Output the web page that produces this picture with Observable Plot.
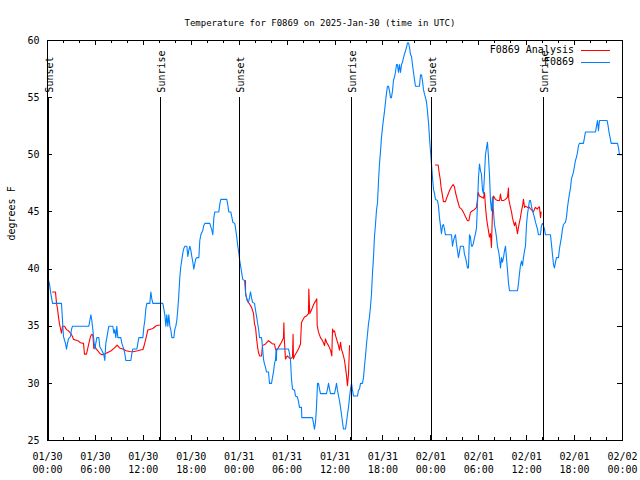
<!DOCTYPE html>
<html><head><meta charset="utf-8">
<script src="https://cdn.jsdelivr.net/npm/d3@7"></script>
<script src="https://cdn.jsdelivr.net/npm/@observablehq/plot@0.6"></script>
<style>
body{margin:0;background:#fff;}
#chart{width:640px;height:480px;}
</style></head><body><div id="chart"></div>
<script>
// ---- data (hours after 2025-01-30 00:00 UTC, degrees F) ----
const titleText = "Temperature for F0869 on 2025-Jan-30 (time in UTC)";
const yLabelText = "degrees F";
const seriesNames = ["F0869 Analysis", "F0869"];
const seriesColors = ["#ff0000", "#0080ff"];
const startUTC = "2025-01-30T00:00:00Z";
const endUTC = "2025-02-02T00:00:00Z";
const sunsetHours = [0.15, 24.05, 48.1];
const sunriseHours = [14.2, 38.1, 62.15];
const sunLabels = ["Sunset", "Sunrise"];
const sunLineTop = 55;
const yTicks = [25, 30, 35, 40, 45, 50, 55, 60];
const tickFormat = "%m/%d\n%H:%M";

const stationObs = [[0.13,39.0],[0.25,38.7],[0.38,38.0],[0.63,37.0],[1.75,37.0],[1.88,35.5],[2.0,34.1],[2.25,33.5],[2.38,33.0],[2.5,33.5],[2.63,33.9],[2.88,34.1],[3.0,34.7],[3.13,35.0],[5.18,35.0],[5.3,35.5],[5.43,36.0],[5.55,35.5],[5.68,34.7],[5.8,33.8],[5.93,33.0],[6.05,33.5],[6.18,34.0],[6.43,34.0],[6.55,33.2],[6.8,32.9],[7.05,32.5],[7.18,32.0],[7.3,33.5],[7.43,34.0],[7.68,35.0],[8.18,35.0],[8.31,34.4],[8.43,34.7],[8.56,34.0],[8.68,35.0],[8.81,34.0],[9.18,34.0],[9.31,33.5],[9.56,33.0],[9.68,32.6],[9.81,32.0],[10.43,32.0],[10.56,32.6],[10.68,33.0],[11.19,33.0],[11.31,33.5],[11.44,34.0],[11.94,34.0],[12.06,34.9],[12.19,35.5],[12.31,36.5],[12.44,37.0],[12.81,37.0],[12.94,38.0],[13.06,37.4],[13.19,37.0],[14.44,37.0],[14.57,36.5],[14.69,36.0],[14.82,35.0],[14.94,36.0],[15.07,35.0],[15.19,36.0],[15.32,35.0],[15.44,34.7],[15.57,34.0],[15.82,34.0],[15.94,34.7],[16.07,35.0],[16.19,35.5],[16.32,36.5],[16.44,37.7],[16.57,39.3],[16.69,40.2],[16.82,40.8],[16.94,41.4],[17.07,41.8],[17.2,42.0],[17.45,42.0],[17.57,41.1],[17.7,41.65],[17.82,42.0],[17.95,41.65],[18.07,41.1],[18.2,40.6],[18.32,40.0],[18.45,40.5],[18.57,40.9],[18.7,41.0],[18.95,41.0],[19.07,42.5],[19.2,43.0],[19.45,43.4],[19.57,43.8],[19.7,44.0],[20.33,44.0],[20.45,43.7],[20.58,43.4],[20.7,43.0],[20.83,44.5],[20.95,45.0],[21.45,45.0],[21.58,45.7],[21.7,46.1],[22.45,46.1],[22.58,45.6],[22.7,45.0],[22.95,45.0],[23.1,44.5],[23.2,44.1],[23.45,44.0],[23.58,43.4],[23.7,42.8],[23.83,42.0],[23.96,41.4],[24.08,40.7],[24.2,40.2],[24.33,39.6],[24.45,39.1],[24.67,39.0],[24.79,38.0],[24.92,37.5],[25.04,37.2],[25.17,37.1],[25.29,37.5],[25.42,38.0],[25.55,37.5],[25.67,37.1],[25.92,37.0],[26.05,36.4],[26.17,35.9],[26.3,35.3],[26.42,34.8],[26.55,34.0],[26.8,34.0],[26.92,33.2],[27.05,32.1],[27.17,31.7],[27.3,31.4],[27.42,31.0],[27.67,31.0],[27.8,30.0],[28.05,30.0],[28.17,30.5],[28.3,31.0],[28.42,31.7],[28.55,32.1],[28.63,33.0],[28.66,32.0],[28.7,33.0],[30.18,33.0],[30.3,32.6],[30.43,32.0],[30.55,30.4],[30.68,29.5],[30.93,29.4],[31.05,28.9],[31.3,28.8],[31.43,28.4],[31.55,27.9],[31.8,27.9],[31.85,27.0],[33.18,27.0],[33.31,26.5],[33.43,26.0],[33.56,26.6],[33.68,27.9],[33.81,30.0],[33.93,30.0],[34.06,29.5],[34.18,29.1],[34.93,29.1],[35.06,29.5],[35.19,30.0],[35.31,29.5],[35.44,29.1],[35.94,29.1],[36.06,29.5],[36.19,30.0],[36.31,29.4],[36.44,28.9],[36.56,28.5],[36.69,27.9],[36.81,27.3],[36.94,26.6],[37.06,26.0],[37.31,26.0],[37.44,26.6],[37.56,27.3],[37.69,27.9],[37.82,28.8],[37.94,29.5],[38.07,30.0],[38.19,29.4],[38.32,28.9],[38.82,28.9],[38.94,29.4],[39.07,29.5],[39.19,30.0],[39.44,30.0],[39.57,30.5],[39.69,31.5],[39.82,32.4],[39.94,33.4],[40.07,34.3],[40.19,35.2],[40.32,35.8],[40.44,36.7],[40.57,37.8],[40.69,39.6],[40.82,41.0],[40.94,42.8],[41.07,43.9],[41.19,45.1],[41.32,45.8],[41.45,47.7],[41.57,49.2],[41.7,50.3],[41.82,51.5],[41.95,52.4],[42.07,53.1],[42.2,53.8],[42.32,54.6],[42.45,55.4],[42.57,56.0],[42.7,56.0],[42.82,55.6],[42.95,55.0],[43.07,55.0],[43.2,55.6],[43.32,56.5],[43.45,56.8],[43.57,57.2],[43.7,57.9],[43.82,57.9],[43.95,57.2],[44.07,57.9],[44.2,57.2],[44.33,57.9],[44.45,58.1],[44.58,58.5],[44.7,58.8],[44.83,59.1],[44.95,59.4],[45.08,59.8],[45.2,59.8],[45.33,59.4],[45.45,58.8],[45.58,58.6],[45.7,57.9],[45.83,57.2],[45.95,56.6],[46.08,56.0],[46.58,56.0],[46.71,57.0],[46.83,57.0],[46.95,56.5],[47.08,55.7],[47.21,55.3],[47.33,55.0],[47.46,54.6],[47.58,53.8],[47.71,52.8],[47.83,51.5],[47.96,50.3],[48.08,49.2],[48.21,48.0],[48.33,47.0],[48.46,46.6],[48.58,46.1],[48.83,46.0],[48.96,45.5],[49.08,44.5],[49.21,43.8],[49.33,43.1],[49.46,43.8],[49.58,43.9],[49.71,43.5],[49.83,43.0],[50.59,43.0],[50.71,42.0],[50.84,42.5],[50.96,42.8],[51.09,43.0],[51.21,42.2],[51.34,41.6],[51.46,41.0],[51.59,41.5],[51.71,42.0],[52.09,42.0],[52.21,41.3],[52.34,41.0],[52.46,40.6],[52.59,40.1],[52.71,40.1],[52.84,43.0],[52.96,42.8],[53.09,42.0],[53.21,42.0],[53.34,42.3],[53.46,42.7],[53.59,43.1],[53.72,43.6],[53.84,45.7],[53.97,48.0],[54.09,49.2],[54.22,48.6],[54.34,48.3],[54.47,46.9],[54.59,46.6],[54.72,48.3],[54.84,50.0],[54.97,50.6],[55.09,51.1],[55.22,49.8],[55.34,48.3],[55.47,46.0],[55.59,45.1],[55.72,46.3],[55.84,45.1],[55.97,43.9],[56.09,43.4],[56.22,42.8],[56.34,42.0],[56.47,41.6],[56.6,41.0],[56.72,40.1],[56.85,41.0],[56.97,40.6],[57.1,41.0],[57.22,41.6],[57.35,42.0],[57.47,41.0],[57.6,39.9],[57.72,38.8],[57.85,38.1],[58.85,38.1],[58.97,38.7],[59.1,39.6],[59.22,40.3],[59.35,40.7],[59.48,40.3],[59.6,41.0],[59.73,41.6],[59.85,42.0],[59.98,43.9],[60.1,44.8],[60.23,45.4],[60.35,46.0],[60.48,46.0],[60.6,45.5],[60.73,45.1],[60.85,44.8],[60.98,44.5],[61.1,44.1],[61.23,43.8],[61.35,43.5],[61.48,43.0],[61.73,43.0],[61.85,43.8],[61.98,44.0],[62.1,43.8],[62.23,43.5],[62.35,43.0],[62.98,43.0],[63.1,42.2],[63.23,41.3],[63.36,40.4],[63.48,40.1],[63.61,40.6],[63.73,41.0],[63.98,41.0],[64.11,41.8],[64.23,42.3],[64.36,42.8],[64.48,43.5],[64.61,43.9],[64.86,44.1],[64.98,44.5],[65.11,45.4],[65.23,46.0],[65.36,46.6],[65.49,47.1],[65.61,47.9],[65.74,48.2],[65.86,48.5],[65.99,49.0],[66.11,49.5],[66.24,49.8],[66.36,50.2],[66.49,50.8],[66.61,51.0],[67.11,51.0],[67.24,51.5],[67.36,52.0],[68.62,52.0],[68.74,52.5],[68.87,53.0],[68.99,52.1],[69.12,53.0],[70.08,53.0],[70.2,52.5],[70.33,51.9],[70.45,51.5],[70.58,51.0],[71.37,51.0],[71.5,50.6],[71.62,50.0],[72.0,50.0]];

const analysisNight1 = [[0.63,38.0],[1.0,38.0],[1.13,37.0],[1.25,36.55],[1.38,35.8],[1.5,35.2],[1.63,34.8],[1.75,34.4],[1.88,35.0],[2.13,35.0],[2.38,34.7],[2.63,34.6],[2.88,34.4],[3.13,34.1],[3.25,33.85],[3.5,33.8],[3.88,33.7],[4.13,33.55],[4.51,33.5],[4.63,32.56],[4.88,32.56],[5.13,33.35],[5.38,34.1],[5.55,34.3],[5.68,34.2],[5.8,33.06],[5.93,33.35],[6.05,33.06],[6.3,32.85],[6.55,32.62],[6.8,32.5],[7.14,32.56],[7.55,32.7],[7.97,32.85],[8.39,33.1],[8.72,33.35],[9.01,33.1],[9.43,33.0],[9.85,32.85],[10.27,32.79],[10.68,32.76],[11.31,32.85],[11.73,32.94],[11.94,32.94],[12.06,33.2],[12.31,33.9],[12.56,34.66],[12.81,34.72],[13.19,34.8],[13.61,35.04],[14.02,35.1]];
const analysisNight2 = [[24.79,39.0],[24.8,37.8],[24.92,37.5],[25.04,37.2],[25.29,36.95],[25.55,36.65],[25.67,36.4],[25.8,36.1],[25.92,35.2],[26.05,34.9],[26.17,34.0],[26.3,33.2],[26.42,32.7],[26.55,32.4],[26.8,32.4],[26.92,33.3],[27.3,33.45],[27.67,33.74],[27.92,33.6],[28.17,33.45],[28.42,33.45],[28.55,33.0],[28.68,32.87],[28.8,33.0],[29.05,33.3],[29.3,33.6],[29.55,34.0],[29.6,35.3],[29.65,33.9],[29.8,32.14],[29.93,32.3],[30.05,32.4],[30.18,32.3],[30.43,32.14],[30.68,32.3],[30.75,34.3],[30.8,32.14],[30.93,32.4],[31.18,32.7],[31.43,33.0],[31.68,33.45],[31.8,35.3],[31.93,35.5],[32.18,35.8],[32.43,35.9],[32.68,36.1],[32.72,38.25],[32.8,36.8],[32.85,36.1],[33.1,36.5],[33.35,36.95],[33.6,37.24],[33.72,37.4],[33.77,35.05],[33.93,34.5],[34.18,34.0],[34.43,33.75],[34.69,33.3],[34.81,33.9],[34.94,33.6],[35.19,33.3],[35.44,32.9],[35.6,32.4],[35.69,34.76],[35.81,34.5],[35.94,34.6],[36.06,34.2],[36.19,33.9],[36.31,33.6],[36.44,33.3],[36.56,32.9],[36.69,33.6],[36.81,33.0],[36.94,32.7],[37.06,32.4],[37.19,32.0],[37.31,31.4],[37.44,30.7],[37.56,29.8],[37.69,30.8],[37.82,33.3]];
const analysisNight3 = [[48.58,49.1],[48.92,49.1],[49.04,48.45],[49.17,47.9],[49.29,47.1],[49.42,46.6],[49.58,45.9],[49.83,45.9],[50.08,46.4],[50.33,46.85],[50.59,47.2],[50.79,47.4],[50.96,47.2],[51.09,46.7],[51.34,46.0],[51.59,45.4],[51.84,45.25],[52.09,44.96],[52.34,44.58],[52.59,44.23],[52.76,44.23],[52.96,44.96],[53.21,45.1],[53.46,45.2],[53.72,45.4],[53.84,46.1],[53.92,46.7],[54.09,46.4],[54.34,46.3],[54.59,46.2],[54.72,46.7],[54.84,45.5],[54.97,44.5],[55.09,43.9],[55.22,43.35],[55.34,42.8],[55.47,43.1],[55.59,41.9],[55.72,45.1],[55.84,46.4],[56.09,46.1],[56.34,46.0],[56.6,46.0],[56.72,46.56],[56.85,46.0],[57.1,46.0],[57.35,46.1],[57.6,46.3],[57.72,47.1],[57.76,46.1],[57.97,45.4],[58.1,45.0],[58.22,44.5],[58.35,44.1],[58.47,43.8],[58.6,44.1],[58.72,43.65],[58.85,43.1],[58.97,43.65],[59.1,44.1],[59.22,44.5],[59.35,45.1],[59.48,45.5],[59.6,46.1],[59.73,45.4],[59.85,45.5],[60.1,45.4],[60.35,45.4],[60.48,45.25],[60.6,45.2],[60.73,45.1],[60.85,45.0],[60.98,45.25],[61.1,45.4],[61.35,45.25],[61.48,45.4],[61.6,45.45],[61.73,44.5],[61.81,45.0]];

// ---- build ----
const t0 = new Date(startUTC), t1 = new Date(endUTC);
const toDate = h => new Date(+t0 + h * 3600000);
const stationRows = stationObs.map(([h, v]) => ({t: toDate(h), v}));
const analysisRows = [analysisNight1, analysisNight2, analysisNight3]
  .flatMap((seg, i) => seg.map(([h, v]) => ({t: toDate(h), v, seg: i})));
const sunRows = [
  ...sunsetHours.map(h => ({t: toDate(h), label: sunLabels[0]})),
  ...sunriseHours.map(h => ({t: toDate(h), label: sunLabels[1]}))
];
const majorTicks = d3.utcHour.every(6).range(t0, new Date(+t1 + 1));
const minorTicks = d3.utcHour.every(2).range(t0, new Date(+t1 + 1)).filter(d => d.getUTCHours() % 6 !== 0);

const W = 640, H = 480, mL = 47, mR = 18, mT = 40, mB = 40;
const plotH = H - mT - mB, plotW = W - mL - mR;
const font = "'DejaVu Sans Mono', 'Liberation Mono', monospace";
const majorLen = 5, minorLen = 3, yTickLen = 5;

const chart = Plot.plot({
  width: W, height: H,
  marginLeft: mL, marginRight: mR, marginTop: mT, marginBottom: mB,
  style: {fontFamily: font, fontSize: "10px", background: "#fff", color: "#000"},
  x: {type: "utc", domain: [t0, t1], label: null},
  y: {domain: [25, 60], label: null},
  marks: [
    Plot.line(analysisRows, {x: "t", y: "v", z: "seg", stroke: seriesColors[0], strokeWidth: 1.1}),
    Plot.line(stationRows, {x: "t", y: "v", stroke: seriesColors[1], strokeWidth: 1.1}),
    Plot.ruleX(sunRows, {x: "t", y1: 25, y2: sunLineTop, stroke: "#000", strokeWidth: 1, shapeRendering: "crispEdges"}),
    Plot.text(sunRows, {x: "t", y: sunLineTop, text: "label", rotate: -90, textAnchor: "start", dy: -5, dx: 1, fill: "#000"}),
    Plot.ruleX(majorTicks, {x: d => d, insetTop: plotH - majorLen, stroke: "#000", shapeRendering: "crispEdges"}),
    Plot.ruleX(majorTicks, {x: d => d, insetBottom: plotH - majorLen, stroke: "#000", shapeRendering: "crispEdges"}),
    Plot.ruleX(minorTicks, {x: d => d, insetTop: plotH - minorLen, stroke: "#000", shapeRendering: "crispEdges"}),
    Plot.ruleX(minorTicks, {x: d => d, insetBottom: plotH - minorLen, stroke: "#000", shapeRendering: "crispEdges"}),
    Plot.ruleY(yTicks, {y: d => d, insetRight: plotW - yTickLen, stroke: "#000", shapeRendering: "crispEdges"}),
    Plot.ruleY(yTicks, {y: d => d, insetLeft: plotW - yTickLen, stroke: "#000", shapeRendering: "crispEdges"}),
    Plot.frame({stroke: "#000", shapeRendering: "crispEdges"}),
    Plot.axisX(majorTicks, {tickSize: 0, tickPadding: 10, tickFormat: d3.utcFormat(tickFormat), lineHeight: 1.3, label: null}),
    Plot.axisY(yTicks, {tickSize: 0, tickPadding: 8, label: null}),
    Plot.text([titleText], {text: d => d, frameAnchor: "top", dy: -21, dx: -15, fontSize: 9, fill: "#000"}),
    Plot.text([yLabelText], {text: d => d, frameAnchor: "left", rotate: -90, dx: -36, fill: "#000"})
  ]
});

// legend (inside top-right of the frame)
const svg = d3.select(chart);
const lg = svg.append("g").attr("font-family", font).attr("font-size", 10);
seriesNames.forEach((name, i) => {
  const y = 50 + i * 12;
  lg.append("text").attr("x", 574).attr("y", y).attr("dy", "0.32em")
    .attr("text-anchor", "end").attr("fill", "#000").text(name);
  lg.append("line").attr("x1", 581).attr("x2", 610).attr("y1", y + 0.5).attr("y2", y + 0.5)
    .attr("stroke", seriesColors[i]).attr("stroke-width", 1).attr("shape-rendering", "crispEdges");
});

document.getElementById("chart").appendChild(chart);
</script>
</body></html>
